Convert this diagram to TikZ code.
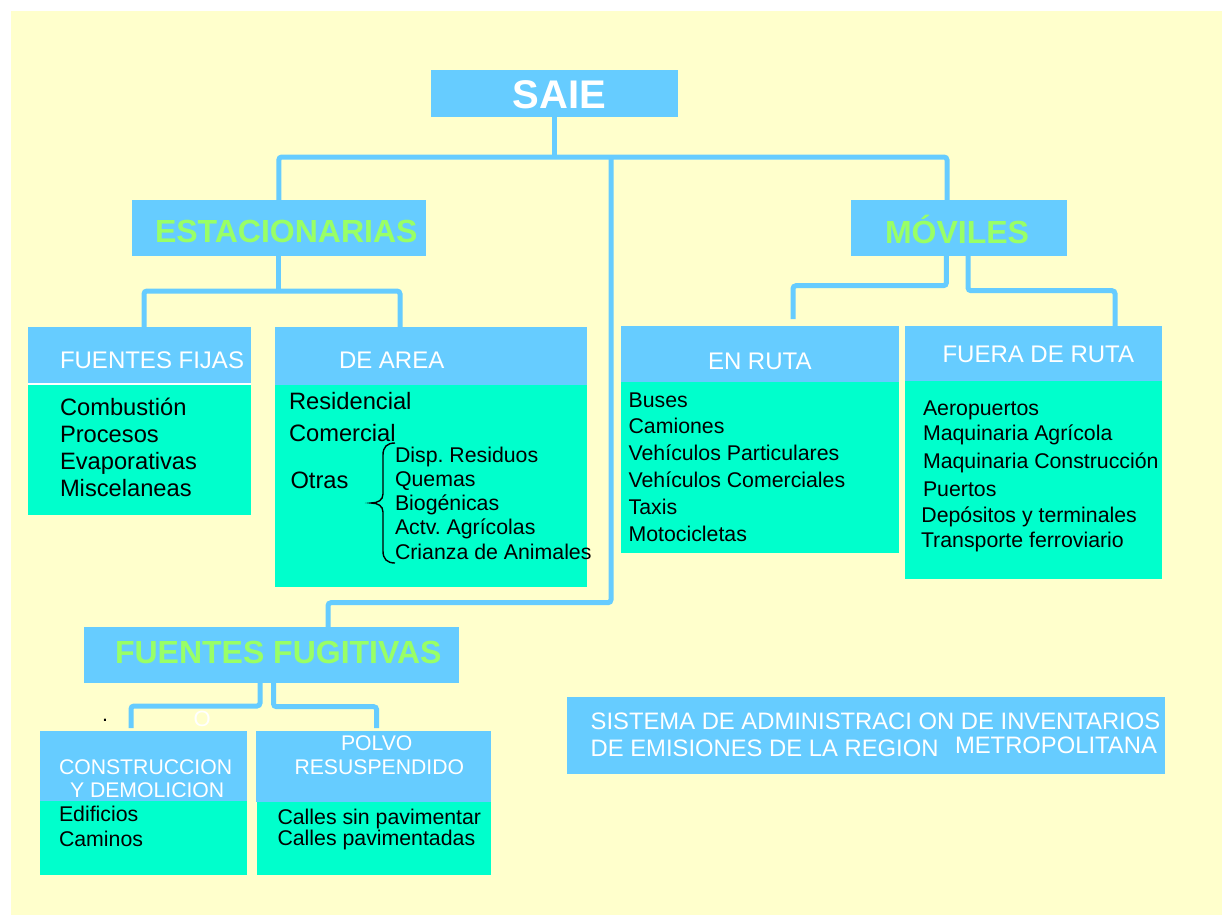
\documentclass[tikz,border=0pt]{standalone}
\usepackage{fontspec}
\setmainfont{Liberation Sans}
\definecolor{bgY}{HTML}{FFFFCC}
\definecolor{hdrB}{HTML}{66CCFF}
\definecolor{bodyG}{HTML}{00FFCC}
\definecolor{txtG}{HTML}{99FF66}
\newcommand\fsz[1]{\fontsize{#1}{#1}\selectfont}
\tikzset{
  box/.style={fill=hdrB, draw=none, inner sep=0pt, outer sep=0pt},
  bodybox/.style={fill=bodyG, draw=none, inner sep=0pt, outer sep=0pt},
  conn/.style={draw=hdrB, line width=5pt, rounded corners=3pt},
  lbl/.style={anchor=base west, inner sep=0pt, outer sep=0pt},
  bigw/.style={lbl, text=white, font=\fsz{40}\bfseries},
  grn/.style={lbl, text=txtG, font=\fsz{32}\bfseries},
  hdr/.style={lbl, text=white, font=\fsz{24}},
  hdrs/.style={lbl, text=white, font=\fsz{21.2}},
  itm/.style={lbl, text=black, font=\fsz{23.7}},
  itms/.style={lbl, text=black, font=\fsz{21.3}},
  sist/.style={lbl, text=white, font=\fsz{23.8}},
}
\begin{document}
\frenchspacing
\begin{tikzpicture}[x=1pt, y=-1pt]
\useasboundingbox (0,0) rectangle (1222,915);
\fill[white] (0,0) rectangle (1222,915);
\fill[bgY] (11,11) rectangle (1222,915);

% boxes
\node[box, minimum width=247pt, minimum height=47pt] (saie) at (554.5,93.5) {};
\node[box, minimum width=294.4pt, minimum height=56pt] (est) at (278.8,228) {};
\node[box, minimum width=216pt, minimum height=56pt] (mov) at (959,228) {};
\node[box, minimum width=223pt, minimum height=57pt] (ffh) at (139.5,355.5) {};
\node[bodybox, minimum width=223pt, minimum height=131pt] (ffb) at (139.5,449.5) {};
\draw[white, line width=2pt] (ffb.north west) -- (ffb.north east);
\node[box, minimum width=312pt, minimum height=58pt] (dah) at (431,356) {};
\node[bodybox, minimum width=312pt, minimum height=202pt] (dab) at (431,486) {};
\node[box, minimum width=278pt, minimum height=56pt] (erh) at (760,354) {};
\node[bodybox, minimum width=278pt, minimum height=171pt] (erb) at (760,467.5) {};
\node[box, minimum width=257pt, minimum height=55pt] (frh) at (1033.5,353.5) {};
\node[bodybox, minimum width=257pt, minimum height=198pt] (frb) at (1033.5,480) {};
\node[box, minimum width=375pt, minimum height=56pt] (fug) at (271.5,655) {};
\node[box, minimum width=207pt, minimum height=70pt] (cdh) at (143.5,766) {};
\node[bodybox, minimum width=207pt, minimum height=74pt] (cdb) at (143.5,838) {};
\node[box, minimum width=235pt, minimum height=71pt] (pvh) at (373.5,766.5) {};
\node[bodybox, minimum width=234pt, minimum height=73pt] (pvb) at (374,838.5) {};
\node[box, minimum width=598pt, minimum height=77pt] (sis) at (866,735.5) {};

% connectors
\coordinate (j0) at (554.5,157);
\coordinate (j1) at (611,157);
\coordinate (j2) at (611,602.7);
\coordinate (j3) at (278.8,291);
\draw[conn] (saie.south) -- (j0);
\draw[conn] (est.north) |- (j0) -| ([xshift=-12pt]mov.north);
\draw[conn] (j1) -- (j2) -| ([xshift=56.5pt]fug.north);
\draw[conn] (est.south) -- (j3);
\draw[conn] ([xshift=4.5pt]ffh.north) |- (j3) -| ([xshift=-31pt]dah.north);
\draw[conn] ([xshift=-12.6pt]mov.south) -- ++(0,29.7) -| ([xshift=33pt,yshift=7pt]erh.north);
\draw[conn] ([xshift=9pt]mov.south) -- ++(0,34.7) -| ([xshift=81.5pt]frh.north);
\draw[conn] ([xshift=-11.5pt]fug.south) -- ++(0,23) -| ([xshift=-12.5pt,yshift=3pt]cdh.north);
\draw[conn] ([xshift=2pt]fug.south) -- ++(0,23.7) -| ([xshift=3.2pt,yshift=3pt]pvh.north);

% titles
\node[bigw] (tsaie) at (512.6,109) {SAIE};
\node[grn] (test) at (155,242.7) {ESTACIONARIAS};
\node[grn] (tmov) at (885,243) {MÓVILES};
\node[grn] (tfug) at (115,663) {FUENTES FUGITIVAS};

% headers
\node[hdr] (tffh) at (60,368) {FUENTES FIJAS};
\node[hdr] (tdah) at (339,368) {DE AREA};
\node[hdr] (terh) at (708,369) {EN RUTA};
\node[hdr] (tfrh) at (942.5,362.7) {FUERA DE RUTA};
\node[hdrs] (tcd1) at (59,774) {CONSTRUCCION};
\node[hdrs] (tcd2) at (70,797) {Y DEMOLICION};
\node[hdrs] (tpv1) at (341,750) {POLVO};
\node[hdrs] (tpv2) at (294.5,774) {RESUSPENDIDO};

% fuentes fijas
\foreach \t [count=\i] in {Combustión,Procesos,Evaporativas,Miscelaneas}
  \node[itm] (ff\i) at (60,{415+27*(\i-1)}) {\t};

% de area
\node[itm] (da1) at (289,409) {Residencial};
\node[itm] (da2) at (289,441) {Comercial};
\node[itm] (da3) at (290.5,488) {Otras};
\draw[black, line width=1.4pt] (395,443) .. controls (387,443) and (383,447) .. (383,455)
  -- (383,494) .. controls (383,500) and (378,503) .. (371,503)
  .. controls (378,503) and (383,506) .. (383,512)
  -- (383,551) .. controls (383,559) and (387,563) .. (395,563);
\foreach \t [count=\i] in {Disp. Residuos,Quemas,Biogénicas,Actv. Agrícolas,Crianza de Animales}
  \node[itms] (ot\i) at (395,{462+24.25*(\i-1)}) {\t};

% en ruta
\foreach \t [count=\i] in {Buses,Camiones,Vehículos Particulares,Vehículos Comerciales,Taxis,Motocicletas}
  \node[itms] (er\i) at (628.6,{407+26.8*(\i-1)}) {\t};

% fuera de ruta
\foreach \x/\y/\t [count=\i] in {923/415/Aeropuertos,923/440.7/Maquinaria Agrícola,923/468/Maquinaria Construcción,923/496.7/Puertos,921.4/522/Depósitos y terminales,921/547.7/Transporte ferroviario}
  \node[itms] (fr\i) at (\x,\y) {\t};

% fugitivas
\node[itms] (dot) at (102,721.5) {.};
\node[lbl, text=white, font=\fsz{22}] (tO) at (193.5,726) {O};
\node[itms] (cd1) at (59,821.7) {Edificios};
\node[itms] (cd2) at (59,846) {Caminos};
\node[itms] (pv1) at (277.5,824) {Calles sin pavimentar};
\node[itms] (pv2) at (277.5,845) {Calles pavimentadas};

% sistema
\node[sist] (s1) at (590.7,729) {SISTEMA DE ADMINISTRACI ON DE INVENTARIOS};
\node[sist] (s2) at (590.7,756.7) {DE EMISIONES DE LA REGION};
\node[sist] (s3) at (955,753.3) {METROPOLITANA};
\end{tikzpicture}
\end{document}
